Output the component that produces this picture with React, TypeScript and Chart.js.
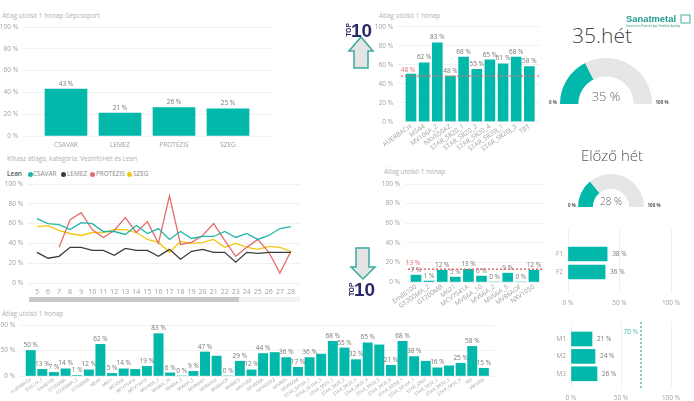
import React, { useEffect, useRef } from "react";
import { Chart, registerables } from "chart.js";

Chart.register(...registerables);

const machineGroups = ["CSAVAR", "LEMEZ", "PROTÉZIS", "SZEG"];
const machineGroupValues = [43, 21, 26, 25];

const topLabels = ["AUERBACH", "M544", "MV106A_2", "NXV650AZ", "STAR_SR20_1", "STAR_SR20_2", "STAR_SR20_4", "STAR_SR20J_1", "STAR_SR20J_3", "TBT"];
const topValues = [50, 62, 83, 48, 68, 55, 65, 61, 68, 58];
const topShown = [null, 62, 83, 48, 68, 55, 65, 61, 68, 58];
const topAverage = 48;

const lowLabels = ["Emil6100", "GT200MA_2", "GT200MB", "M621", "MCV7541A", "MV66A_10", "MV66A_2", "MV66A_5", "MV86AOF", "NXV1050"];
const lowValues = [7, 1, 12, 5, 13, 6, 0, 9, 0, 12];
const lowAverage = 13;

const weeks = [5, 6, 7, 8, 9, 10, 11, 12, 13, 14, 15, 16, 17, 18, 19, 20, 21, 22, 23, 24, 25, 26, 27, 28];
const csavar = [65, 60, 59, 54, 61, 60, 52, 52, 49, 58, 50, 55, 44, 52, 45, 47, 47, 52, 46, 50, 44, 48, 55, 57];
const lemez = [31, 25, 27, 36, 36, 33, 33, 28, 35, 33, 33, 27, 34, 24, 32, 34, 31, 31, 21, 31, 30, 31, 31, 31];
const protezis = [null, null, 36, 64, 71, 54, 46, 53, 66, 51, 62, 40, 88, 39, 41, 48, 60, 43, 27, 36, 44, 31, 10, 32];
const szeg = [57, 58, 53, 50, 48, 51, 51, 54, 54, 51, 44, 41, 31, 42, 40, 41, 44, 36, 40, 36, 34, 37, 36, 32];
const legendNames = ["CSAVAR", "LEMEZ", "PROTÉZIS", "SZEG"];

const allLabels = ["AUERBACH", "EDILUX_1", "Emil6100", "GT200MA", "GT200MA_2", "GT200MB", "M544", "M621", "MCV500", "MCV7541A", "MCV7541X", "MV106A_2", "MV66A_10", "MV66A_2", "MV66A_5", "MV86A01", "MV86A02", "MV86AOF", "MV86C5", "NXV1050", "NXV650A", "NXV650AZ", "NXV800", "NXV800M", "STAR_SA16A_1", "STAR_SA16A_3", "STAR_SR20_1", "STAR_SR20_2", "STAR_SR20_3", "STAR_SR20_4", "STAR_SR20_5", "STAR_SR20_6", "STAR_SR20J_1", "STAR_SR16A_1", "STAR_SR32", "STAR_SR32_2", "STAR_SR32_3", "STAR_SR32_4", "TBT", "VM1000"];
const allValues = [50, 13, 7, 14, 1, 12, 62, 5, 14, 13, 19, 83, 6, 0, 9, 47, 39, 0, 29, 12, 44, 46, 36, 17, 36, 43, 68, 55, 32, 65, 61, 21, 68, 38, 29, 16, 20, 25, 58, 15];
const allShown = [50, 13, 7, 14, 1, 12, 62, 5, 14, null, 19, 83, 6, 0, 9, 47, null, 0, 29, 12, 44, null, 36, 17, 36, null, 68, 55, 32, 65, null, 21, 68, 38, null, 16, null, 25, 58, 15];

const fLabels = ["F1", "F2"];
const fValues = [38, 36];
const mLabels = ["M1", "M2", "M3"];
const mValues = [21, 24, 26];
const mTarget = 70;

const gaugeNow = 35;
const gaugePrev = 28;

const TEAL = "#01B8AA";
const FONT = "'Open Sans', sans-serif";
const TICK = "#a0a0a0";
const GRID = "#f1f1f1";

type Box = { x: number; y: number; w: number; h: number };
type Plot = { l: number; t: number; r: number; b: number };

const fixedAxis = (size: number, key: "width" | "height") => (s: any) => {
  s[key] = size;
  s.paddingLeft = s.paddingRight = s.paddingTop = s.paddingBottom = 0;
};

const labelPlugin = (shown: (number | null)[], color = "#777", offset = 2) => ({
  id: "valueLabels",
  afterDatasetsDraw(chart: any) {
    const { ctx } = chart;
    const horizontal = chart.options.indexAxis === "y";
    ctx.save();
    ctx.font = `6.5px ${FONT}`;
    ctx.fillStyle = color;
    chart.getDatasetMeta(0).data.forEach((el: any, i: number) => {
      const v = shown[i];
      if (v === null || v === undefined) return;
      if (horizontal) {
        ctx.textAlign = "left";
        ctx.textBaseline = "middle";
        ctx.fillText(`${v} %`, el.x + 5, el.y);
      } else {
        ctx.textAlign = "center";
        ctx.textBaseline = "bottom";
        ctx.fillText(`${v} %`, el.x, el.y - offset);
      }
    });
    ctx.restore();
  },
});

const refPlugin = (value: number, color: string, axis: "x" | "y", labelAt: number) => ({
  id: "refLine",
  afterDatasetsDraw(chart: any) {
    const { ctx, chartArea: a } = chart;
    const scale = chart.scales[axis];
    const p = scale.getPixelForValue(value);
    ctx.save();
    ctx.strokeStyle = color;
    ctx.lineWidth = 1.3;
    ctx.setLineDash([2, 2]);
    ctx.beginPath();
    if (axis === "y") {
      ctx.moveTo(a.left + 3, p);
      ctx.lineTo(a.right, p);
    } else {
      ctx.moveTo(p, a.top);
      ctx.lineTo(p, a.bottom);
    }
    ctx.stroke();
    ctx.setLineDash([]);
    ctx.fillStyle = color;
    ctx.font = `6.5px ${FONT}`;
    if (axis === "y") {
      ctx.textAlign = "center";
      ctx.textBaseline = "bottom";
      ctx.fillText(`${value} %`, a.left + labelAt, p - 3);
    } else {
      ctx.textAlign = "right";
      ctx.textBaseline = "middle";
      ctx.fillText(`${value} %`, p - 3, a.top + labelAt);
    }
    ctx.restore();
  },
});

const pad = (box: Box, plot: Plot) => ({
  left: 0,
  top: plot.t - box.y,
  right: box.x + box.w - plot.r,
  bottom: 0,
});

function indexAxis(labels: (string | number)[], values: number[], min: number, max: number, extra: any) {
  return {
    type: "linear",
    offset: false,
    min,
    max,
    afterBuildTicks: (s: any) => {
      s.ticks = values.map((value) => ({ value }));
    },
    ticks: {
      autoSkip: false,
      font: { family: FONT, size: 6.5 },
      color: TICK,
      callback: (v: number) => labels[values.indexOf(v)],
      ...(extra.ticks || {}),
    },
    grid: { display: false, drawTicks: false },
    border: { display: false },
    ...(extra.rest || {}),
  };
}

function valueAxis(step: number, extra: any = {}) {
  return {
    type: "linear",
    min: 0,
    max: 100,
    ticks: {
      stepSize: step,
      padding: 5,
      font: { family: FONT, size: 6.5 },
      color: TICK,
      callback: (v: number) => `${v} %`,
    },
    grid: { color: GRID, drawTicks: false, lineWidth: 1 },
    border: { display: false },
    ...extra,
  };
}

function vBar(canvas: HTMLCanvasElement, box: Box, plot: Plot, labels: string[], values: number[], first: number, step: number, thick: number, rotation: number, plugins: any[], yStep = 20, labelSize = 6.5) {
  const idx = labels.map((_, i) => i);
  return new Chart(canvas, {
    type: "bar",
    data: {
      datasets: [{ data: values.map((y, i) => ({ x: i, y })), backgroundColor: TEAL, barThickness: thick } as any],
    },
    options: {
      animation: false,
      responsive: false,
      layout: { padding: pad(box, plot) },
      plugins: { legend: { display: false }, tooltip: { enabled: false } },
      scales: {
        x: {
          ...indexAxis(labels, idx, (plot.l - first) / step, (plot.r - first) / step, {
            ticks: { minRotation: rotation, maxRotation: rotation, padding: rotation ? 1 : 5, font: { family: FONT, size: labelSize } },
          }),
          afterFit: fixedAxis(box.y + box.h - plot.b, "height"),
        },
        y: { ...valueAxis(yStep), afterFit: fixedAxis(plot.l - box.x, "width") },
      },
    } as any,
    plugins,
  });
}

function hBar(canvas: HTMLCanvasElement, box: Box, plot: Plot, labels: string[], values: number[], first: number, step: number, plugins: any[]) {
  const idx = labels.map((_, i) => i);
  return new Chart(canvas, {
    type: "bar",
    data: {
      datasets: [{ data: values.map((x, i) => ({ x, y: i })), backgroundColor: TEAL, barThickness: 14 } as any],
    },
    options: {
      animation: false,
      responsive: false,
      indexAxis: "y",
      layout: { padding: pad(box, plot) },
      plugins: { legend: { display: false }, tooltip: { enabled: false } },
      scales: {
        y: {
          ...indexAxis(labels, idx, (plot.t - first) / step, (plot.b - first) / step, {
            ticks: { padding: 5 },
            rest: { reverse: true },
          }),
          afterFit: fixedAxis(plot.l - box.x, "width"),
        },
        x: {
          ...valueAxis(50),
          ticks: { stepSize: 50, padding: 6, font: { family: FONT, size: 6.5 }, color: TICK, callback: (v: number) => `${v} %` },
          afterFit: fixedAxis(box.y + box.h - plot.b, "height"),
        },
      },
    } as any,
    plugins,
  });
}

function lineChart(canvas: HTMLCanvasElement, box: Box, plot: Plot, first: number, step: number) {
  const series = [
    { label: legendNames[0], values: csavar, color: "#1FB5A8" },
    { label: legendNames[1], values: lemez, color: "#3B3B3B" },
    { label: legendNames[2], values: protezis, color: "#E66C6C" },
    { label: legendNames[3], values: szeg, color: "#F2C80F" },
  ];
  return new Chart(canvas, {
    type: "line",
    data: {
      datasets: series.map((s) => ({
        label: s.label,
        data: s.values.map((y, i) => ({ x: weeks[i], y })),
        borderColor: s.color,
        borderWidth: 1.3,
        pointRadius: 0,
        spanGaps: false,
      })),
    },
    options: {
      animation: false,
      responsive: false,
      layout: { padding: pad(box, plot) },
      plugins: { legend: { display: false }, tooltip: { enabled: false } },
      scales: {
        x: {
          ...indexAxis(weeks, weeks, weeks[0] + (plot.l - first) / step, weeks[0] + (plot.r - first) / step, {
            ticks: { padding: 5, maxRotation: 0, minRotation: 0, font: { family: FONT, size: 7 } },
          }),
          afterFit: fixedAxis(box.y + box.h - plot.b, "height"),
        },
        y: { ...valueAxis(20), afterFit: fixedAxis(plot.l - box.x, "width") },
      },
    } as any,
  });
}

function gauge(canvas: HTMLCanvasElement, value: number, cutout: string) {
  return new Chart(canvas, {
    type: "doughnut",
    data: { datasets: [{ data: [value, 100 - value], backgroundColor: [TEAL, "#E6E6E6"], borderWidth: 0 }] },
    options: {
      animation: false,
      responsive: false,
      rotation: -90,
      circumference: 180,
      cutout,
      plugins: { legend: { display: false }, tooltip: { enabled: false } },
    } as any,
  });
}

const boxes: Record<string, Box> = {
  group: { x: 0, y: 20, w: 280, h: 132 },
  top: { x: 375, y: 20, w: 170, h: 140 },
  low: { x: 380, y: 178, w: 170, h: 135 },
  line: { x: 0, y: 178, w: 310, h: 120 },
  all: { x: 0, y: 320, w: 500, h: 81 },
  f: { x: 545, y: 222, w: 140, h: 86 },
  m: { x: 545, y: 316, w: 140, h: 84 },
  g1: { x: 560, y: 58, w: 92, h: 46 },
  g2: { x: 578, y: 174, w: 66, h: 33 },
};

const canvasStyle = (b: Box): React.CSSProperties => ({ position: "absolute", left: b.x, top: b.y, width: b.w, height: b.h });

function Txt({ x, y, size = 6.4, color = "#b0b0b0", weight = 400, center = false, children }: any) {
  return (
    <div
      style={{
        position: "absolute",
        left: x,
        top: y,
        fontFamily: FONT,
        fontSize: size,
        color,
        fontWeight: weight,
        lineHeight: 1,
        whiteSpace: "nowrap",
        transform: center ? "translate(-50%, -50%)" : "translateY(-50%)",
      }}
    >
      {children}
    </div>
  );
}

function Arrow({ pts }: { pts: string }) {
  return <polygon points={pts} fill="#E4E4E4" stroke="#3AA99F" strokeWidth={1.5} />;
}

export default function App() {
  const refs = useRef<Record<string, HTMLCanvasElement | null>>({});
  useEffect(() => {
    const r = refs.current as Record<string, HTMLCanvasElement>;
    const charts = [
      vBar(r.group, boxes.group, { l: 23, t: 27, r: 272, b: 136 }, machineGroups, machineGroupValues, 66, 54, 42, 0, [labelPlugin(machineGroupValues)]),
      vBar(r.top, boxes.top, { l: 398, t: 26.7, r: 540, b: 121.7 }, topLabels, topValues, 411, 13.15, 10, 35, [labelPlugin(topShown), refPlugin(topAverage, "#E66C6C", "y", 10)]),
      vBar(r.low, boxes.low, { l: 405, t: 184, r: 544, b: 282 }, lowLabels, lowValues, 416, 13.1, 10, 35, [labelPlugin(lowValues), refPlugin(lowAverage, "#E66C6C", "y", 8)]),
      lineChart(r.line, boxes.line, { l: 28, t: 184, r: 300, b: 283 }, 37, 11.04),
      vBar(r.all, boxes.all, { l: 20, t: 325, r: 495, b: 376 }, allLabels, allValues, 30.7, 11.62, 9.3, 35, [labelPlugin(allShown)], 50, 4.5),
      hBar(r.f, boxes.f, { l: 568, t: 229, r: 671, b: 293 }, fLabels, fValues, 254, 18, [labelPlugin(fValues)]),
      hBar(r.m, boxes.m, { l: 571, t: 322, r: 671, b: 388 }, mLabels, mValues, 339, 17.4, [labelPlugin(mValues), refPlugin(mTarget, "#3DB8AE", "x", 10)]),
      gauge(r.g1, gaugeNow, "60%"),
      gauge(r.g2, gaugePrev, "55%"),
    ];
    return () => charts.forEach((c) => c.destroy());
  }, []);

  const legendX = [[30, 33], [63, 67], [92, 96], [129, 133]];
  const legendColors = ["#1FB5A8", "#3B3B3B", "#E66C6C", "#F2C80F"];

  return (
    <div style={{ position: "absolute", left: 0, top: 0, width: 694, height: 401, overflow: "hidden", background: "#fff" }}>
      <Txt x={2} y={16}>Átlag utolsó 1 hónap Gépcsoport</Txt>
      <Txt x={7} y={159}>Kihasz átlaga, kategória: VezinfoHét és Lean</Txt>
      <Txt x={2} y={314}>Átlag utolsó 1 hónap</Txt>
      <Txt x={379} y={16}>Átlag utolsó 1 hónap</Txt>
      <Txt x={384} y={172}>Átlag utolsó 1 hónap</Txt>

      <Txt x={7} y={174} color="#555" weight={600}>Lean</Txt>
      {legendNames.map((n, i) => (
        <React.Fragment key={n}>
          <div style={{ position: "absolute", left: legendX[i][0] - 2.5, top: 171.5, width: 5, height: 5, borderRadius: "50%", background: legendColors[i] }} />
          <Txt x={legendX[i][1]} y={174} color="#888">{n}</Txt>
        </React.Fragment>
      ))}

      <div style={{ position: "absolute", left: 29, top: 297, width: 271, height: 5, background: "#F2F2F2" }} />
      <div style={{ position: "absolute", left: 29, top: 297, width: 210, height: 5, background: "#C8C8C8" }} />

      {Object.keys(boxes).map((k) => (
        <canvas key={k} ref={(el) => { refs.current[k] = el; }} width={boxes[k].w} height={boxes[k].h} style={canvasStyle(boxes[k])} />
      ))}

      <Txt x={602} y={35} size={21} color="#444" weight={300} center>35.hét</Txt>
      <Txt x={606} y={96} size={13} color="#666" weight={300} center>35 %</Txt>
      <Txt x={553} y={102} size={4.5} color="#555" weight={700} center>0 %</Txt>
      <Txt x={662} y={102} size={4.5} color="#555" weight={700} center>100 %</Txt>

      <Txt x={612} y={155} size={15} color="#555" weight={300} center>Előző hét</Txt>
      <Txt x={611} y={201} size={10} color="#666" weight={300} center>28 %</Txt>
      <Txt x={572} y={205} size={4.5} color="#555" weight={700} center>0 %</Txt>
      <Txt x={654} y={205} size={4.5} color="#555" weight={700} center>100 %</Txt>

      <svg width={694} height={401} style={{ position: "absolute", left: 0, top: 0, pointerEvents: "none" }}>
        <Arrow pts="361,37 373,51 368,51 368,68 354,68 354,51 349,51" />
        <text x={361.5} y={37} textAnchor="middle" fontFamily="'Liberation Sans'" fontWeight={700} fontSize={19} fill="#2B2A66">10</text>
        <text transform="translate(351,36.5) rotate(-90)" fontFamily="'Liberation Sans'" fontWeight={700} fontSize={6.5} fill="#2B2A66">TOP</text>

        <Arrow pts="356,248 369,248 369,267 375,267 363,279 351,267 356,267" />
        <text x={364.5} y={296} textAnchor="middle" fontFamily="'Liberation Sans'" fontWeight={700} fontSize={19} fill="#2B2A66">10</text>
        <text transform="translate(353.5,296) rotate(-90)" fontFamily="'Liberation Sans'" fontWeight={700} fontSize={6.5} fill="#2B2A66">TOP</text>

        <text x={626} y={22} fontFamily="'Liberation Sans'" fontWeight={700} fontSize={9.4} fill="#1E9C8E">Sanatmetal</text>
        <rect x={681} y={15} width={9} height={8} fill="none" stroke="#1E9C8E" strokeWidth={0.8} />
        <text x={626} y={27} fontFamily="'Liberation Sans'" fontSize={2.6} fill="#2E9C8E">Innováció és Precíziós Ipari Termékek Gyártója</text>
      </svg>
    </div>
  );
}
